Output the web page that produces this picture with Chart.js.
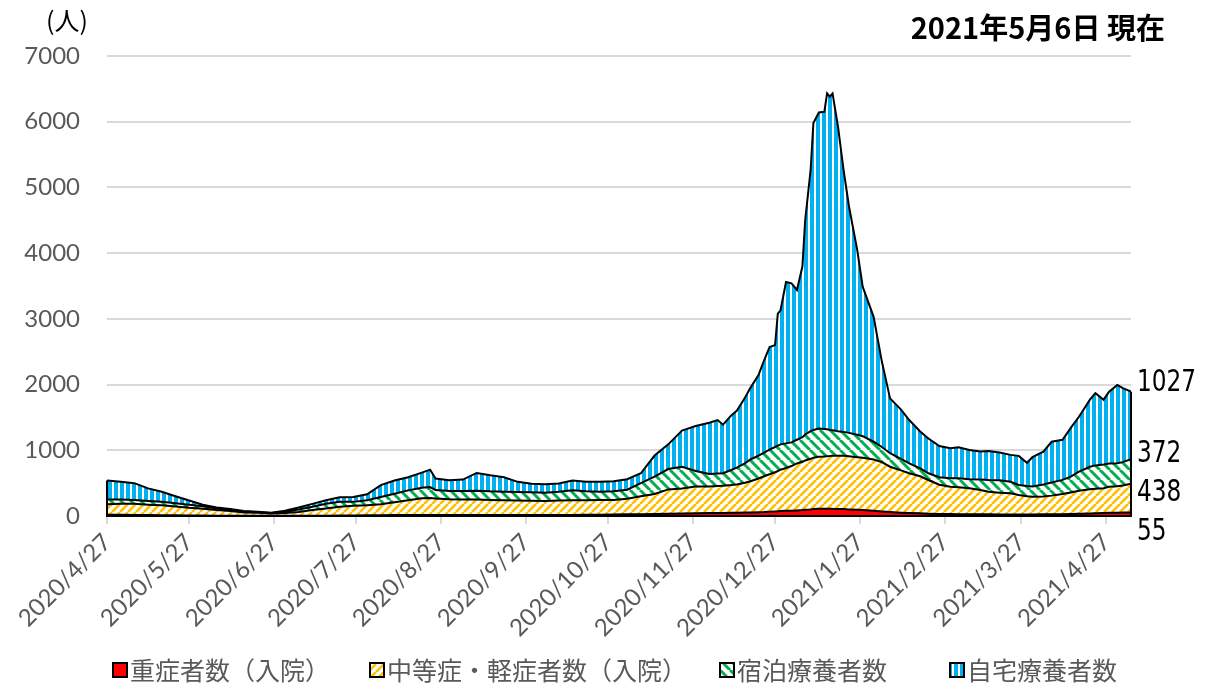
<!DOCTYPE html>
<html>
<head>
<meta charset="utf-8">
<script src="https://cdn.jsdelivr.net/npm/chart.js@4"></script>
<style>
  html, body { margin: 0; padding: 0; background: #fff; }
</style>
</head>
<body>
<canvas id="careChart" width="1219" height="687"></canvas>
<script>
// days counted from 2020/4/27 (day 0) to 2021/5/6 (day 374)
const dayIndex = [0,5,10,15,20,25,30,35,40,45,50,55,60,65,70,75,80,85,90,95,100,105,110,115,118,120,125,130,135,140,145,150,155,160,165,170,175,180,185,190,195,200,205,210,215,220,223,225,228,230,233,235,238,240,242,244,245,246,248,250,252,254,255,257,258,260,262,263,264,265,267,269,271,274,276,280,283,286,290,293,297,300,304,308,311,315,319,322,326,330,333,336,338,342,345,349,352,355,359,361,364,366,369,371,374];

// 重症者数（入院）
const severe = [18,18,16,14,12,10,8,6,5,4,3,3,2,2,3,4,5,6,8,10,12,14,15,15,15,15,15,15,15,14,14,14,14,14,15,16,18,20,22,25,28,30,33,38,42,45,46,47,48,50,52,55,58,60,65,70,72,75,78,80,85,90,95,100,105,110,112,112,112,110,108,105,100,95,90,80,70,60,50,45,40,36,32,30,28,26,25,25,24,24,24,24,24,25,26,28,30,33,38,42,46,48,50,52,55];

// 中等症・軽症者数（入院）
const moderate = [162,167,169,158,150,135,117,104,85,71,52,45,36,43,57,86,110,134,147,155,168,196,225,255,260,250,240,235,235,231,226,221,218,216,220,222,222,222,223,237,272,305,372,382,408,405,409,413,422,430,453,475,512,545,570,595,613,630,652,680,715,735,750,770,780,790,793,798,800,805,808,811,810,800,795,780,750,690,645,605,565,512,443,416,408,395,371,345,331,321,296,276,270,271,284,307,327,352,368,373,377,398,402,413,438];

// 宿泊療養者数
const hotel = [70,65,60,58,53,50,45,40,25,20,13,10,7,20,40,50,70,75,60,75,110,130,150,160,165,130,125,130,135,130,130,130,128,125,135,152,135,128,130,138,200,265,310,330,235,190,190,190,230,255,295,330,350,360,375,385,385,385,375,360,360,375,395,420,425,430,420,410,398,390,374,364,355,340,330,270,230,205,175,150,120,102,115,127,137,137,159,178,190,177,152,155,154,184,200,215,243,290,344,355,362,354,350,355,372];

// 自宅療養者数
const home = [290,270,255,190,155,105,65,20,15,10,7,7,5,15,30,45,55,70,75,90,180,200,200,230,265,175,165,175,270,245,220,155,130,130,125,150,145,150,155,160,150,320,375,550,685,780,815,740,830,865,1000,1090,1230,1405,1560,1550,2010,2040,2455,2420,2280,2600,3260,3980,4670,4810,4825,5110,5070,5125,4630,3990,3445,2815,2275,1900,1300,835,750,660,560,530,475,457,472,447,425,442,420,408,443,355,447,500,620,610,740,835,1020,1100,985,1090,1193,1125,1027];

const seriesNames = ['重症者数（入院）', '中等症・軽症者数（入院）', '宿泊療養者数', '自宅療養者数'];

const tickDays = [0,30,61,91,122,153,183,214,244,275,306,334,365];
const tickLabels = ['2020/4/27','2020/5/27','2020/6/27','2020/7/27','2020/8/27','2020/9/27','2020/10/27','2020/11/27','2020/12/27','2021/1/27','2021/2/27','2021/3/27','2021/4/27'];

const titleText = '2021年5月6日 現在';
const unitText = '(人)';

const canvas = document.getElementById('careChart');
const ctx = canvas.getContext('2d');

// hatch patterns like the Excel fills
function diagonal(color, size, width, dir) {
  const c = document.createElement('canvas');
  c.width = size; c.height = size;
  const g = c.getContext('2d');
  g.fillStyle = '#fff';
  g.fillRect(0, 0, size, size);
  g.strokeStyle = color;
  g.lineWidth = width;
  g.beginPath();
  for (const k of [-size, 0, size]) {
    if (dir === '/') { g.moveTo(k, size); g.lineTo(k + size, 0); }
    else { g.moveTo(k, 0); g.lineTo(k + size, size); }
  }
  g.stroke();
  return ctx.createPattern(c, 'repeat');
}
function vertical(color, size, width) {
  const c = document.createElement('canvas');
  c.width = size; c.height = size;
  const g = c.getContext('2d');
  g.fillStyle = '#fff';
  g.fillRect(0, 0, size, size);
  g.fillStyle = color;
  g.fillRect(0, 0, width, size);
  return ctx.createPattern(c, 'repeat');
}

const fills = [
  '#ff0000',
  diagonal('#ffc000', 8, 2.6, '/'),
  diagonal('#00b050', 10, 3, '\\'),
  vertical('#00b0f0', 6, 4)
];

const toPoints = arr => arr.map((v, i) => ({ x: dayIndex[i], y: v }));
const allSeries = [severe, moderate, hotel, home];

const datasets = allSeries.map((arr, i) => ({
  label: seriesNames[i],
  data: toPoints(arr),
  fill: i === 0 ? 'origin' : '-1',
  backgroundColor: fills[i],
  borderColor: '#000',
  borderWidth: 2,
  pointRadius: 0,
  tension: 0
}));

const tickFont = { family: 'Lato, "Open Sans", sans-serif', size: 24 };
const legendX = [113, 370, 720, 950];
const endLabelAt = [-240, 340, 935, 2015]; // y values where the last-value labels sit

const decor = {
  id: 'decor',
  afterDatasetsDraw(chart) {
    const c = chart.ctx;
    const y = chart.scales.y;
    const pts = chart.getDatasetMeta(3).data;
    const first = pts[0], last = pts[pts.length - 1];
    const base = y.getPixelForValue(0);
    c.save();
    c.strokeStyle = '#000';
    c.lineWidth = 2;
    c.beginPath();
    c.moveTo(first.x, first.y);
    c.lineTo(first.x, base);
    c.lineTo(last.x, base);
    c.lineTo(last.x, last.y);
    c.stroke();
    c.restore();
  },
  afterDraw(chart) {
    const c = chart.ctx;
    const area = chart.chartArea;
    const y = chart.scales.y;
    c.save();
    // title
    c.fillStyle = '#000';
    c.font = 'bold 29px "Noto Sans CJK JP", sans-serif';
    c.textAlign = 'right';
    c.textBaseline = 'alphabetic';
    c.fillText(titleText, 1165, 39);
    // unit
    c.font = '25px "Noto Sans CJK JP", sans-serif';
    c.textAlign = 'left';
    c.fillText(unitText, 46, 30);
    // last values on the right, condensed like the original
    c.font = '30px "Liberation Sans Narrow", "DejaVu Sans Condensed", sans-serif';
    c.textBaseline = 'middle';
    allSeries.forEach((arr, i) => {
      c.save();
      c.translate(area.right + 6, y.getPixelForValue(endLabelAt[i]));
      c.scale(0.86, 1);
      c.fillText(String(arr[arr.length - 1]), 0, 0);
      c.restore();
    });
    // legend
    c.font = '25px "Noto Sans CJK JP", sans-serif';
    chart.data.datasets.forEach((ds, i) => {
      const bx = legendX[i], by = 663;
      c.fillStyle = ds.backgroundColor;
      c.fillRect(bx, by, 14, 14);
      c.strokeStyle = '#000';
      c.lineWidth = 2;
      c.strokeRect(bx, by, 14, 14);
      c.fillStyle = '#595959';
      c.textBaseline = 'middle';
      c.fillText(ds.label, bx + 17, by + 7);
    });
    c.restore();
  }
};

new Chart(ctx, {
  type: 'line',
  data: { datasets: datasets },
  options: {
    responsive: false,
    animation: false,
    devicePixelRatio: 1,
    layout: { padding: { top: 56, right: 88, bottom: 46, left: 0 } },
    plugins: {
      legend: { display: false },
      tooltip: { enabled: false },
      filler: { propagate: false }
    },
    scales: {
      x: {
        type: 'linear',
        min: 0,
        max: 374,
        afterBuildTicks: scale => { scale.ticks = tickDays.map(v => ({ value: v })); },
        afterFit: scale => { scale.height = 125; },
        ticks: {
          autoSkip: false,
          minRotation: 45,
          maxRotation: 45,
          padding: 4,
          color: '#595959',
          font: tickFont,
          callback: (value, index) => tickLabels[index]
        },
        grid: { drawOnChartArea: false, drawTicks: true, tickLength: 8, color: '#d9d9d9', lineWidth: 2 },
        border: { display: true, color: '#d9d9d9', width: 2 }
      },
      y: {
        stacked: true,
        min: 0,
        max: 7000,
        afterFit: scale => { scale.width = 107; },
        ticks: { stepSize: 1000, padding: 27, color: '#595959', font: tickFont, callback: v => String(v) },
        grid: { color: '#d9d9d9', lineWidth: 2, drawTicks: false },
        border: { display: false }
      }
    }
  },
  plugins: [decor]
});
</script>
</body>
</html>
